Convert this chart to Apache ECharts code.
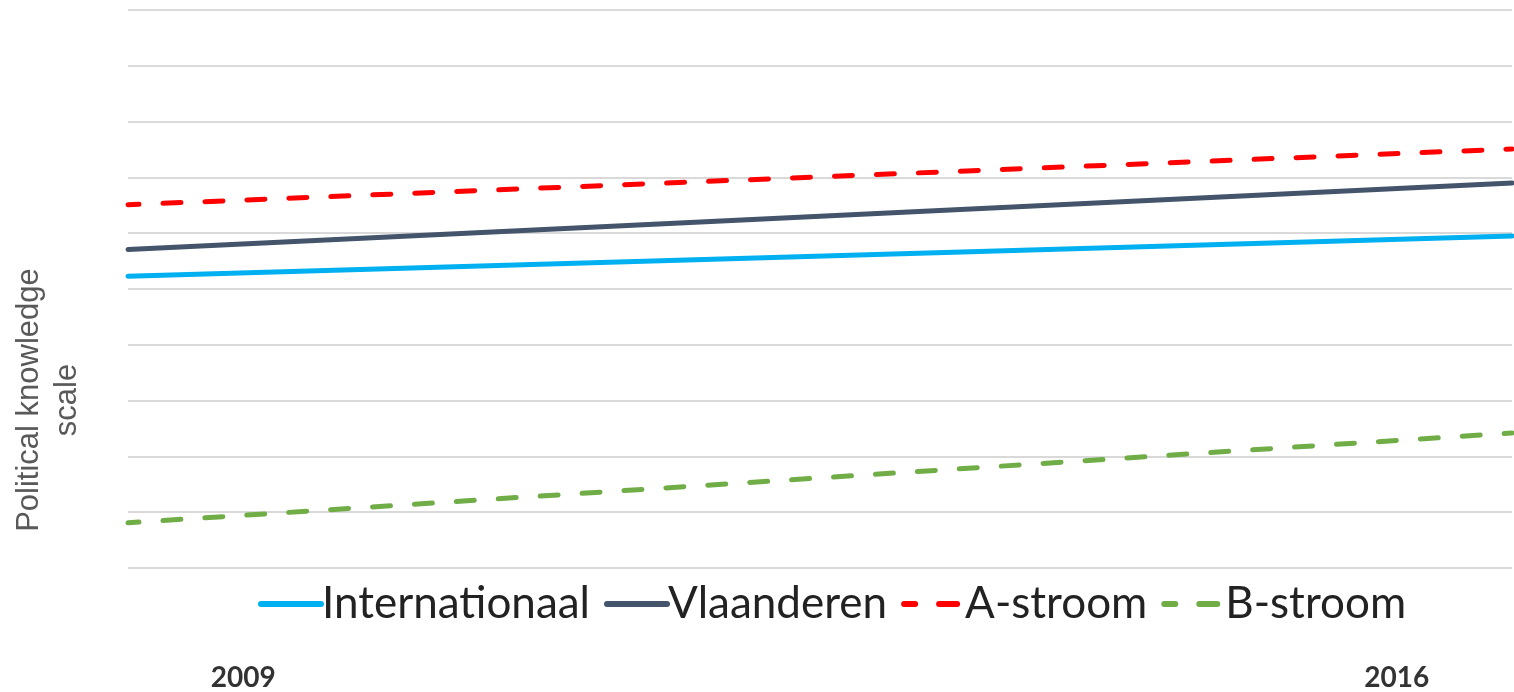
<!DOCTYPE html>
<html>
<head>
<meta charset="utf-8">
<script src="https://cdn.jsdelivr.net/npm/echarts@6/dist/echarts.min.js"></script>
<style>
html,body{margin:0;padding:0;background:#fff;}
#chart{width:1514px;height:692px;}
</style>
</head>
<body>
<div id="chart"></div>
<script>
var years = ['2009', '2016'];
var yearLabels = ['2009', '', '', '', '', '2016'];
var internationaal = [5.23, 5.95];
var vlaanderen = [5.71, 6.90];
var aStroom = [6.51, 7.51];
var bStroom = [0.81, 2.42];
var yAxisName = 'Political knowledge\nscale';

var chart = echarts.init(document.getElementById('chart'));
chart.setOption({
  animation: false,
  backgroundColor: '#ffffff',
  grid: { left: 128, right: 2, top: 10, bottom: 124, containLabel: false, outerBoundsMode: 'none' },
  legend: {
    top: 577,
    left: 253,
    itemWidth: 60,
    itemHeight: 8,
    itemGap: 14,
    lineStyle: { width: 6, cap: 'round' },
    itemStyle: { opacity: 0 },
    textStyle: { fontFamily: 'Lato', fontSize: 44, color: '#222222', padding: [0, 0, 0, -4] },
    data: ['Internationaal', 'Vlaanderen', 'A-stroom', 'B-stroom']
  },
  xAxis: [
    {
      type: 'category',
      data: years,
      boundaryGap: false,
      axisLine: { show: false },
      axisTick: { show: false },
      axisLabel: { show: false },
      splitLine: { show: false }
    },
    {
      type: 'category',
      data: yearLabels,
      position: 'bottom',
      boundaryGap: true,
      axisLine: { show: false },
      axisTick: { show: false },
      splitLine: { show: false },
      axisLabel: { interval: 0, margin: 96, fontFamily: 'Lato', fontWeight: 'bold', fontSize: 28, color: '#333333' }
    }
  ],
  yAxis: {
    type: 'value',
    min: 0,
    max: 10,
    interval: 1,
    axisLine: { show: false },
    axisTick: { show: false },
    axisLabel: { show: false },
    splitLine: { lineStyle: { color: '#d9d9d9', width: 2 } },
    name: yAxisName,
    nameLocation: 'middle',
    nameRotate: 90,
    nameGap: 42,
    nameTextStyle: { fontFamily: 'Liberation Sans', fontSize: 31, lineHeight: 38, color: '#595959', align: 'center', padding: [0, 222, 0, 0] }
  },
  series: [
    { name: 'Internationaal', type: 'line', data: internationaal, symbol: 'none', lineStyle: { color: '#00b0f0', width: 5, cap: 'round' }, itemStyle: { color: '#00b0f0' } },
    { name: 'Vlaanderen', type: 'line', data: vlaanderen, symbol: 'none', lineStyle: { color: '#44546a', width: 5, cap: 'round' }, itemStyle: { color: '#44546a' } },
    { name: 'A-stroom', type: 'line', data: aStroom, symbol: 'none', lineStyle: { color: '#ff0000', width: 5, type: [18, 24], cap: 'round', dashOffset: 7 }, itemStyle: { color: '#ff0000' } },
    { name: 'B-stroom', type: 'line', data: bStroom, symbol: 'none', lineStyle: { color: '#70ad47', width: 5, type: [18, 24], cap: 'round', dashOffset: 7 }, itemStyle: { color: '#70ad47' } }
  ]
});
</script>
</body>
</html>
